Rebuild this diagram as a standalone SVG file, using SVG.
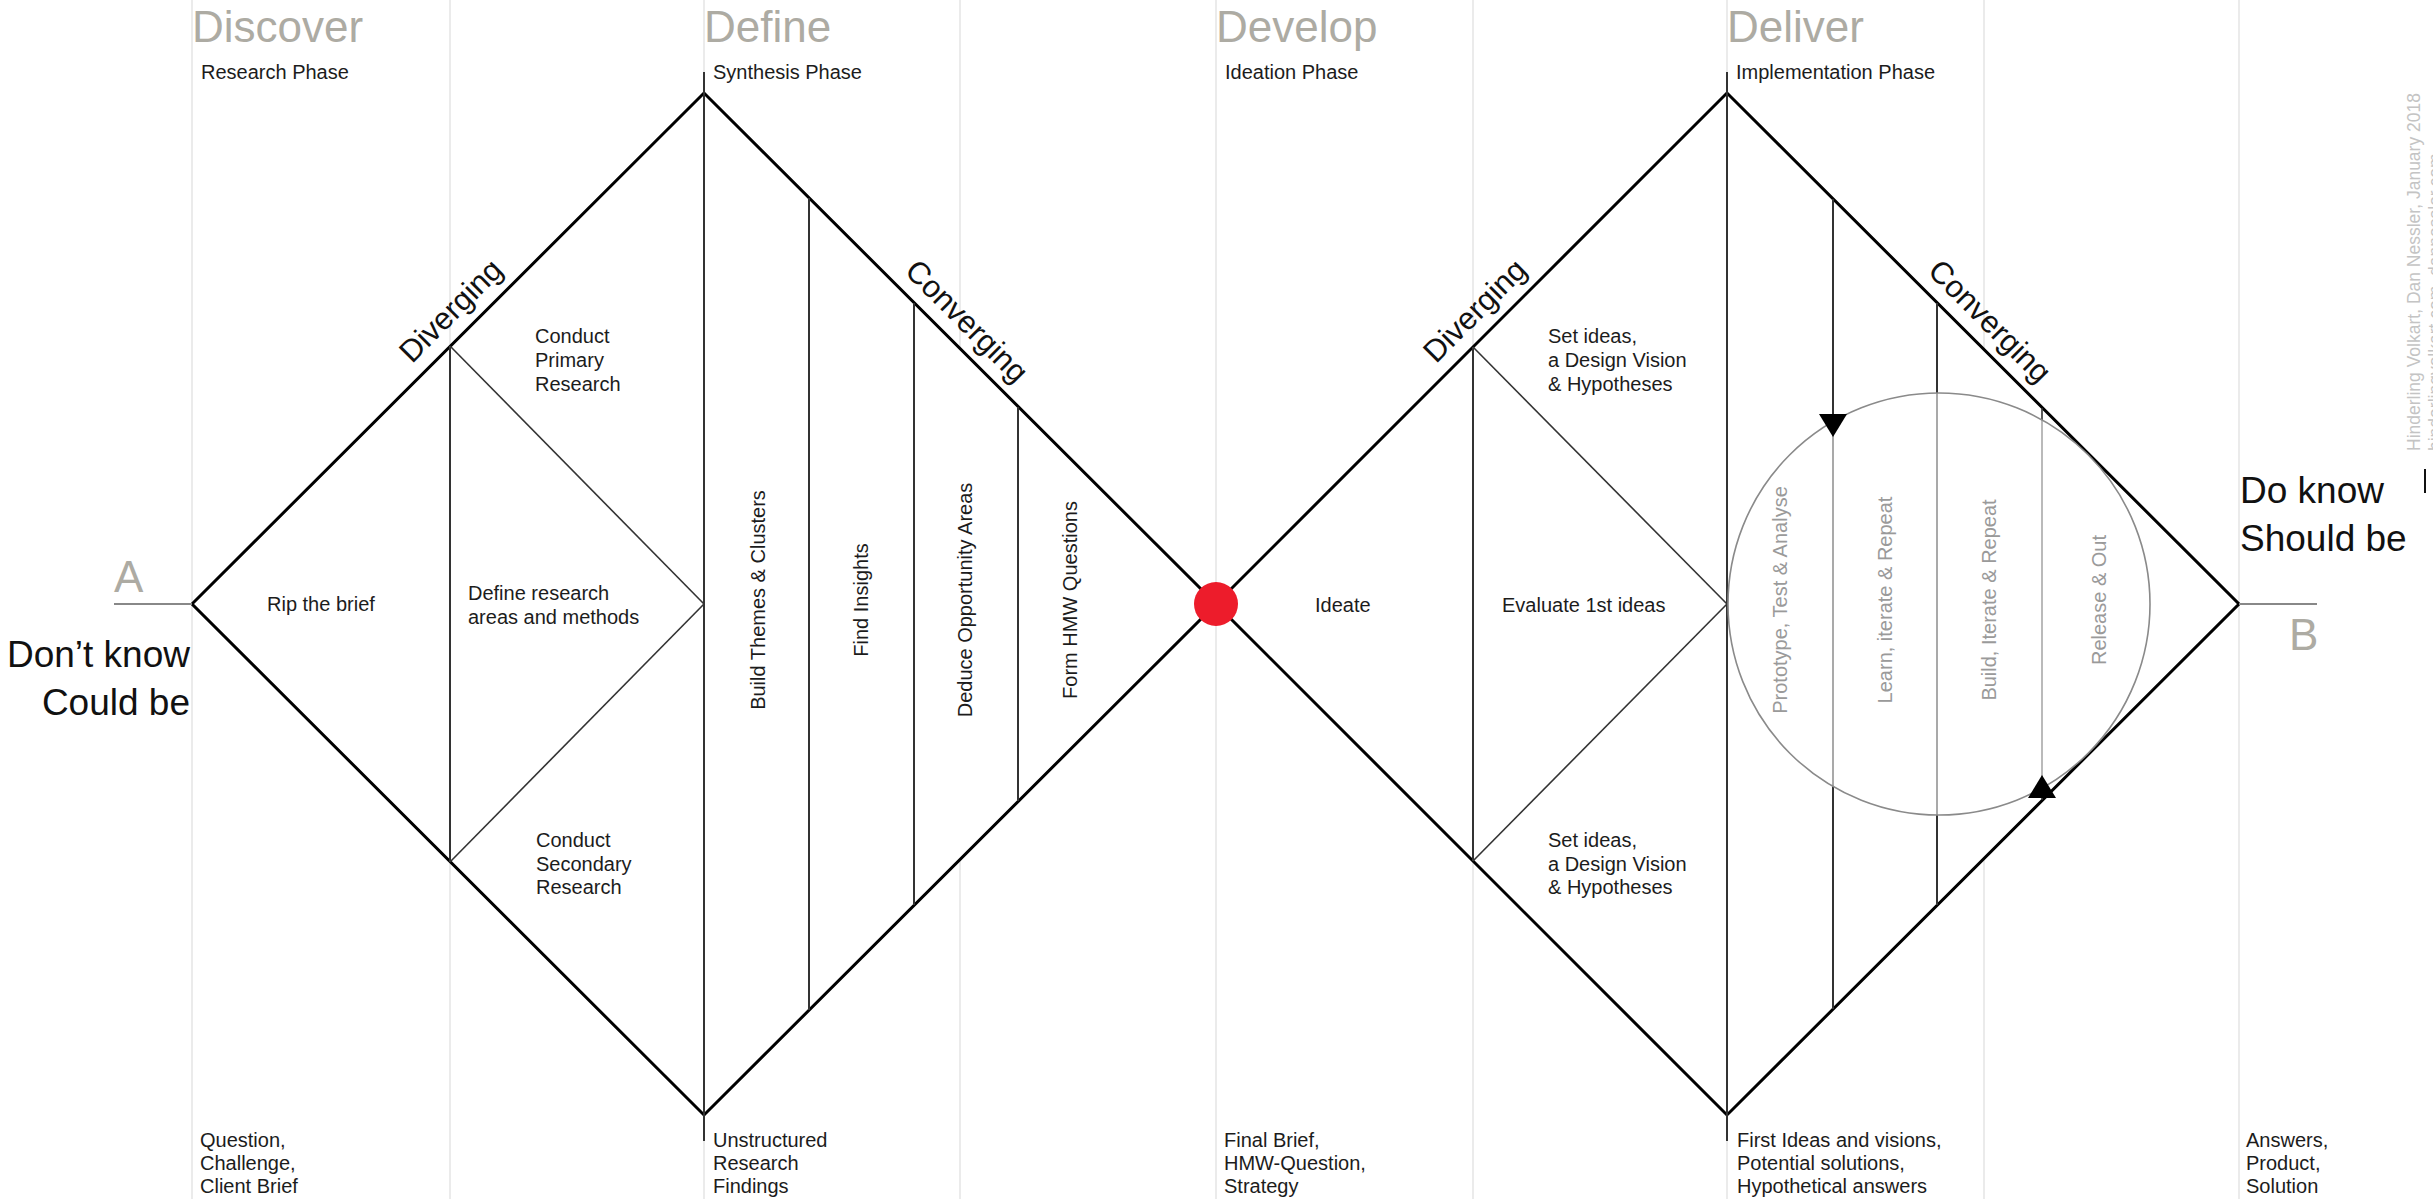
<svg xmlns="http://www.w3.org/2000/svg" width="2433" height="1199" viewBox="0 0 2433 1199">
<style>
  text { font-family: "Liberation Sans", Arial, Helvetica, sans-serif; }
  .grid { stroke: #ebebeb; stroke-width: 2; fill: none; }
  .diamond { fill: #ffffff; stroke: #000000; stroke-width: 3; stroke-linejoin: miter; }
  .inner { stroke: #333333; stroke-width: 2; fill: none; }
  .thin { stroke: #333333; stroke-width: 1.6; fill: none; }
  .head { font-size: 44px; fill: #adaba3; }
  .lab { font-size: 20px; fill: #1c1c1c; }
  .dir { font-size: 31px; fill: #111111; }
  .big { font-size: 37px; fill: #111111; }
  .loop { font-size: 20px; fill: #9a9a9a; }
  .ab { font-size: 44px; fill: #adaba3; }
  .credit { font-size: 17.5px; fill: #c4c4c4; }
  .ends { stroke: #888888; stroke-width: 2; }
</style>

<rect x="0" y="0" width="2433" height="1199" fill="#ffffff"/>

<g id="gridlines">
  <line class="grid" x1="192" y1="0" x2="192" y2="1199"/>
  <line class="grid" x1="450" y1="0" x2="450" y2="1199"/>
  <line class="grid" x1="704" y1="0" x2="704" y2="1199"/>
  <line class="grid" x1="960" y1="0" x2="960" y2="1199"/>
  <line class="grid" x1="1216" y1="0" x2="1216" y2="1199"/>
  <line class="grid" x1="1473" y1="0" x2="1473" y2="1199"/>
  <line class="grid" x1="1727" y1="0" x2="1727" y2="1199"/>
  <line class="grid" x1="1984" y1="0" x2="1984" y2="1199"/>
  <line class="grid" x1="2239" y1="0" x2="2239" y2="1199"/>
</g>

<g id="phase-headings">
  <text class="head" x="192" y="42">Discover</text>
  <text class="head" x="704" y="42">Define</text>
  <text class="head" x="1216" y="42">Develop</text>
  <text class="head" x="1727" y="42">Deliver</text>
  <text class="lab" x="201" y="79">Research Phase</text>
  <text class="lab" x="713" y="79">Synthesis Phase</text>
  <text class="lab" x="1225" y="79">Ideation Phase</text>
  <text class="lab" x="1736" y="79">Implementation Phase</text>
</g>

<g id="diamond-1">
  <polygon class="diamond" points="192,604 704,93 1216,604 704,1115"/>
  <line class="inner" x1="450" y1="346" x2="450" y2="862"/>
  <line class="thin" x1="450" y1="346" x2="704" y2="604"/>
  <line class="thin" x1="450" y1="862" x2="704" y2="604"/>
  <line class="inner" x1="704" y1="72" x2="704" y2="1141"/>
  <line class="inner" x1="809" y1="198" x2="809" y2="1010"/>
  <line class="inner" x1="914" y1="303" x2="914" y2="905"/>
  <line class="inner" x1="1018" y1="407" x2="1018" y2="801"/>
</g>

<g id="diamond-2">
  <polygon class="diamond" points="1216,604 1727,93 2239,604 1727,1115"/>
  <line class="inner" x1="1473" y1="347" x2="1473" y2="861"/>
  <line class="thin" x1="1473" y1="347" x2="1727" y2="604"/>
  <line class="thin" x1="1473" y1="861" x2="1727" y2="604"/>
  <line class="inner" x1="1727" y1="72" x2="1727" y2="1141"/>
  <line class="inner" x1="1833" y1="199" x2="1833" y2="1009"/>
  <line class="inner" x1="1937" y1="303" x2="1937" y2="905"/>
  <line class="thin" x1="2042" y1="408" x2="2042" y2="800"/>
</g>

<g id="diamond-1-labels">
  <text class="dir" transform="translate(411.9,364.3) rotate(-45)">Diverging</text>
  <text class="dir" transform="translate(903.4,272.6) rotate(45)">Converging</text>
  <text class="lab" x="267" y="611">Rip the brief</text>
  <text class="lab" x="468" y="600">Define research</text>
  <text class="lab" x="468" y="624">areas and methods</text>
  <text class="lab" x="535" y="343">Conduct</text>
  <text class="lab" x="535" y="367">Primary</text>
  <text class="lab" x="535" y="391">Research</text>
  <text class="lab" x="536" y="847">Conduct</text>
  <text class="lab" x="536" y="871">Secondary</text>
  <text class="lab" x="536" y="894">Research</text>
  <text class="lab" text-anchor="middle" transform="translate(765,600) rotate(-90)">Build Themes &amp; Clusters</text>
  <text class="lab" text-anchor="middle" transform="translate(868,600) rotate(-90)">Find Insights</text>
  <text class="lab" text-anchor="middle" transform="translate(972,600) rotate(-90)">Deduce Opportunity Areas</text>
  <text class="lab" text-anchor="middle" transform="translate(1077,600) rotate(-90)">Form HMW Questions</text>
</g>

<g id="diamond-2-labels">
  <text class="dir" transform="translate(1435.9,364.3) rotate(-45)">Diverging</text>
  <text class="dir" transform="translate(1926.4,272.6) rotate(45)">Converging</text>
  <text class="lab" x="1315" y="612">Ideate</text>
  <text class="lab" x="1502" y="612">Evaluate 1st ideas</text>
  <text class="lab" x="1548" y="343">Set ideas,</text>
  <text class="lab" x="1548" y="367">a Design Vision</text>
  <text class="lab" x="1548" y="391">&amp; Hypotheses</text>
  <text class="lab" x="1548" y="847">Set ideas,</text>
  <text class="lab" x="1548" y="871">a Design Vision</text>
  <text class="lab" x="1548" y="894">&amp; Hypotheses</text>
</g>

<g id="iteration-loop">
  <circle cx="1939" cy="604" r="211" fill="#ffffff" fill-opacity="0.58" stroke="#8a8a8a" stroke-width="1.6"/>
  <text class="loop" text-anchor="middle" transform="translate(1787,600) rotate(-90)">Prototype, Test &amp; Analyse</text>
  <text class="loop" text-anchor="middle" transform="translate(1892,600) rotate(-90)">Learn, iterate &amp; Repeat</text>
  <text class="loop" text-anchor="middle" transform="translate(1996,600) rotate(-90)">Build, Iterate &amp; Repeat</text>
  <text class="loop" text-anchor="middle" transform="translate(2106,600) rotate(-90)">Release &amp; Out</text>
  <polygon points="1819,414 1847,414 1833,437" fill="#000000"/>
  <polygon points="2028,798 2056,798 2042,775" fill="#000000"/>
</g>

<g id="midpoint">
  <circle cx="1216" cy="604" r="22" fill="#ed1c2b"/>
</g>

<g id="start-A">
  <line class="ends" x1="114" y1="604" x2="192" y2="604"/>
  <text class="ab" x="114" y="592">A</text>
  <text class="big" x="190" y="667" text-anchor="end">Don’t know</text>
  <text class="big" x="190" y="715" text-anchor="end">Could be</text>
</g>

<g id="end-B">
  <line class="ends" x1="2239" y1="604" x2="2317" y2="604"/>
  <text class="ab" x="2289" y="650">B</text>
  <text class="big" x="2240" y="503">Do know</text>
  <text class="big" x="2240" y="551">Should be</text>
</g>

<g id="outcomes">
  <text class="lab" x="200" y="1147">Question,</text>
  <text class="lab" x="200" y="1170">Challenge,</text>
  <text class="lab" x="200" y="1193">Client Brief</text>
  <text class="lab" x="713" y="1147">Unstructured</text>
  <text class="lab" x="713" y="1170">Research</text>
  <text class="lab" x="713" y="1193">Findings</text>
  <text class="lab" x="1224" y="1147">Final Brief,</text>
  <text class="lab" x="1224" y="1170">HMW-Question,</text>
  <text class="lab" x="1224" y="1193">Strategy</text>
  <text class="lab" x="1737" y="1147">First Ideas and visions,</text>
  <text class="lab" x="1737" y="1170">Potential solutions,</text>
  <text class="lab" x="1737" y="1193">Hypothetical answers</text>
  <text class="lab" x="2246" y="1147">Answers,</text>
  <text class="lab" x="2246" y="1170">Product,</text>
  <text class="lab" x="2246" y="1193">Solution</text>
</g>

<g id="credits">
  <text class="credit" transform="translate(2420,451) rotate(-90)">Hinderling Volkart, Dan Nessler, January 2018</text>
  <text class="credit" transform="translate(2441,451) rotate(-90)">hinderlingvolkart.com, dannessler.com</text>
  <line x1="2425" y1="469" x2="2425" y2="493" stroke="#111111" stroke-width="2"/>
</g>
</svg>
